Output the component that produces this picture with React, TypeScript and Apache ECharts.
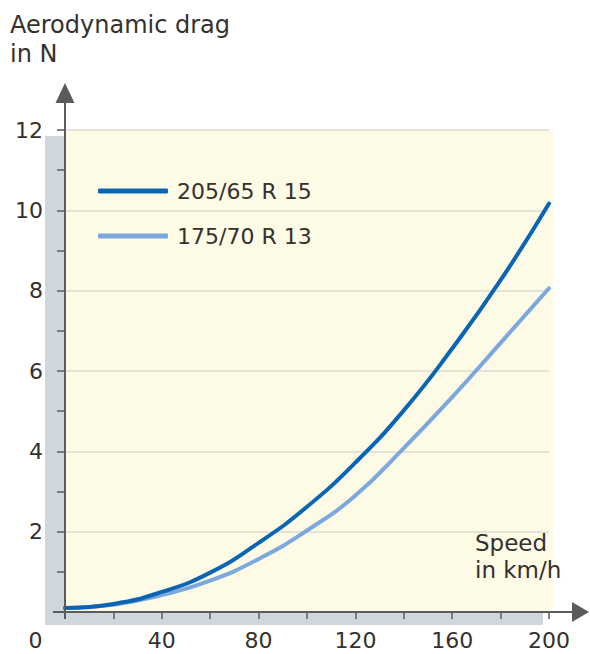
import React, { useEffect, useRef } from "react";
import * as echarts from "echarts";

const speeds = [0, 20, 40, 60, 80, 100, 120, 140, 160, 180, 200];
const drag205 = [0.1, 0.2, 0.5, 0.98, 1.72, 2.62, 3.72, 5.02, 6.56, 8.26, 10.17];
const drag175 = [0.1, 0.18, 0.42, 0.78, 1.32, 2.03, 2.9, 4.08, 5.35, 6.7, 8.06];
const seriesNames = ["205/65 R 15", "175/70 R 13"];
const seriesColors = ["#0a66b2", "#7ba8dd"];
const yTitleLines = ["Aerodynamic drag", "in N"];
const xTitleLines = ["Speed", "in km/h"];

const GL = 65, GT = 130, GW = 484, GH = 482;
const FONT = "'DejaVu Sans', 'Noto Sans', sans-serif";
const TXT = "#34312e";
const AX = "#5b5b5b";

export default function App() {
  const ref = useRef<HTMLDivElement>(null);
  useEffect(() => {
    if (!ref.current) return;
    const chart = echarts.init(ref.current, undefined, { renderer: "svg" });
    const gb = GT + GH;
    chart.setOption({
      animation: false,
      grid: { left: GL, top: GT, width: GW, height: GH, containLabel: false },
      legend: {
        orient: "vertical",
        left: 98,
        top: 177,
        padding: 0,
        itemWidth: 70,
        itemHeight: 5,
        itemGap: 17,
        icon: "roundRect",
        data: seriesNames,
        textStyle: { fontFamily: FONT, fontSize: 22, color: TXT, lineHeight: 28, padding: [0, 0, 0, 4] },
      },
      xAxis: {
        type: "value",
        min: 0,
        max: 200,
        interval: 40,
        axisLine: { show: false },
        axisTick: { show: true, length: 7, lineStyle: { color: AX, width: 1.5 } },
        minorTick: { show: true, splitNumber: 2, length: 7, lineStyle: { color: AX, width: 1.5 } },
        splitLine: { show: false },
        axisLabel: {
          margin: 17,
          fontFamily: FONT,
          fontSize: 22,
          lineHeight: 22,
          color: TXT,
          showMaxLabel: true,
          formatter: (v: number) => (v === 0 ? "{z|0}" : String(v)),
          rich: { z: { fontFamily: FONT, fontSize: 22, lineHeight: 22, color: TXT, padding: [0, 59, 0, 0] } },
        },
      },
      yAxis: {
        type: "value",
        min: 0,
        max: 12,
        interval: 2,
        axisLine: { show: false },
        axisTick: { show: true, length: 8, lineStyle: { color: AX, width: 1.5 } },
        minorTick: { show: true, splitNumber: 2, length: 8, lineStyle: { color: AX, width: 1.5 } },
        splitLine: { show: true, lineStyle: { color: "#dcdbd0", width: 1.5 } },
        axisLabel: {
          margin: 22,
          fontFamily: FONT,
          fontSize: 22,
          color: TXT,
          formatter: (v: number) => (v === 0 ? "" : String(v)),
        },
      },
      graphic: [
        { type: "rect", z: -2, shape: { x: 45, y: 136, width: 498, height: 489 }, style: { fill: "#cfd6dd" } },
        { type: "rect", z: -1, shape: { x: GL, y: GT, width: GW + 4, height: GH }, style: { fill: "#fdfae6" } },
        { type: "line", z: 10, shape: { x1: GL, y1: gb + 7, x2: GL, y2: 100 }, style: { stroke: AX, lineWidth: 2 } },
        { type: "polygon", z: 10, shape: { points: [[GL - 9.5, 103], [GL, 83], [GL + 9.5, 103]] }, style: { fill: AX } },
        { type: "line", z: 10, shape: { x1: 53, y1: gb, x2: 576, y2: gb }, style: { stroke: AX, lineWidth: 2 } },
        { type: "polygon", z: 10, shape: { points: [[572, gb - 10], [589, gb], [572, gb + 10]] }, style: { fill: AX } },
        ...yTitleLines.map((t, i) => ({
          type: "text", z: 10, x: 10, y: 11 + i * 29,
          style: { text: t, fontFamily: FONT, fontSize: 24, lineHeight: 28, fill: TXT },
        })),
        ...xTitleLines.map((t, i) => ({
          type: "text", z: 10, x: 475, y: 529 + i * 27.5,
          style: { text: t, fontFamily: FONT, fontSize: 23, lineHeight: 27, fill: TXT },
        })),
      ],
      series: [
        {
          name: seriesNames[0],
          type: "line",
          smooth: true,
          showSymbol: false,
          z: 4,
          data: speeds.map((s, i) => [s, drag205[i]]),
          lineStyle: { color: seriesColors[0], width: 4, cap: "round" },
          itemStyle: { color: seriesColors[0] },
        },
        {
          name: seriesNames[1],
          type: "line",
          smooth: true,
          showSymbol: false,
          z: 3,
          data: speeds.map((s, i) => [s, drag175[i]]),
          lineStyle: { color: seriesColors[1], width: 4, cap: "round" },
          itemStyle: { color: seriesColors[1] },
        },
      ],
    });
    return () => chart.dispose();
  }, []);
  return (
    <div
      ref={ref}
      style={{ position: "fixed", left: 0, top: 0, width: 590, height: 654, background: "#fff" }}
    />
  );
}
